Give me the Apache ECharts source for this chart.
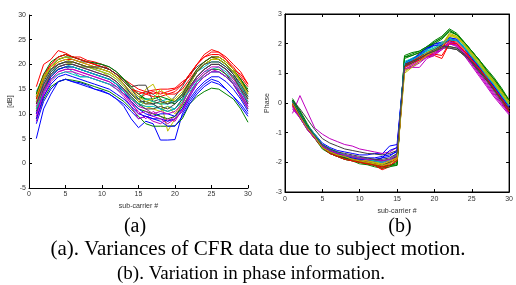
<!DOCTYPE html>
<html><head><meta charset="utf-8">
<script src="https://cdn.jsdelivr.net/npm/echarts@6/dist/echarts.min.js"></script>
<style>html,body{margin:0;padding:0;background:#fff}#c{width:516px;height:285px}</style>
</head><body><div id="c"></div>
<script>
const subCarriers = [1,2,3,4,5,6,7,8,9,10,11,12,13,14,15,16,17,18,19,20,21,22,23,24,25,26,27,28,29,30];
const xTicksA = [0,5,10,15,20,25,30];
const yTicksA = [-5,0,5,10,15,20,25,30];
const yTicksB = [-3,-2,-1,0,1,2,3];
const lineColors = ['#0000ff','#008000','#ff0000','#00bfbf','#bf00bf','#bfbf00','#404040'];

const cfrA01 = [5,11,14,16.5,17,16.5,16.3,15.8,15,14.7,14,13,11.5,9,7.2,8.5,8,4.7,4.7,4.8,10,12.5,14.5,16,17,16.5,15,13.5,12,10];
const cfrA02 = [9,13,15.5,16.5,17,16.8,16.5,16,15.5,15,14.5,13.5,12.5,11,9.5,8,7.5,7.5,7.5,7.6,9,12,13.5,14.5,15.2,15,14,13,11,8.3];
const cfrA03 = [15.5,20,21,22.8,22.3,21.5,21.5,20.8,20.5,20,19,18,17,16,15,14.5,14.8,15,15,15.2,16.5,17.5,20,22,23,22.5,21,19,18,16];
const cfrA04 = [13,16,18,19,19.5,18.5,17.5,17.5,17,16.5,16,15,14,13,11.5,12.5,12,11,11.5,11,13,15,17,18.5,19,19.5,18.5,16.5,15,13];
const cfrA05 = [10,14,17,18.5,19,19,18.5,18,17.5,17,16.5,15.5,14,12,10.5,9,10.5,9.5,8.5,9.5,12,15,17,18.5,19.5,19.5,18,16.5,14.5,12];
const cfrA06 = [12,15.5,18,19.5,20,20.5,20,19.5,19,18.5,17.5,16.5,15,13,12,15,16,13,6.5,9,12,15.5,17.5,19,20,20,19,17,15.5,13];
const cfrA07 = [14,17.5,19.5,21,21.5,21,20.5,20.5,20.3,20,19.5,18.5,17,15.5,15.8,15.8,12.5,13,12,13.5,15.5,18,19.5,20.5,21.5,21,20,18.5,16.5,14.5];
const cfrA08 = [8,12.5,15,16.5,17,16.5,16,15.5,15,14.5,14,13,12,10.5,9,9.5,9,8.5,7.5,7.5,9.5,12,14,15.5,16.5,16,15,13.5,11.5,9.5];
const cfrA09 = [11,15,17.5,19,19.5,19.5,19,18.5,18,17.5,17,16,14.5,12.5,11,10.5,10,9.5,9,9.5,11.5,14,16.5,18,19,19,18,16,13.5,11];
const cfrA10 = [12,17,19,20.5,21,21,20.5,20,19.5,19,18.5,17.5,16,14,13,14,13.5,13.5,14,14,15,17,19,20.5,21.5,21.5,20.5,19,17,14.5];
const cfrA11 = [14.5,17.5,19,20,20.5,20,19.5,19.5,19,18.5,18,17,15.5,14,13,14.5,14,12.5,13,12,14,16,18.5,19.5,20.5,20.5,19.5,18,16,14];
const cfrA12 = [8.5,13.5,16.5,18,18.5,18.5,18,17.5,17,16.5,16,15,13.5,11.5,9,9.5,8.5,8,9,8.5,11,14,16.5,18,19,18.5,17.5,16,13.5,11];
const cfrA13 = [11,16,18.5,20,20.5,20,19.5,19.5,19,18.5,18,17,15.5,13.5,12,11.5,11,10.5,11.5,10,12.5,15.5,17.5,19,20,20,19,17.5,15,12.5];
const cfrA14 = [13,16.5,19,20,20.5,20.5,20,19.5,19.3,19,18.5,17.5,16,14,12.5,12.5,12,11,10.5,11,13,16,18.5,20,21,21,20,18,15.5,13];
const cfrA15 = [10,14.5,17.5,19,19.5,19.5,19,18.5,18,17.5,17,16,14.5,12.5,11,10,9.5,10,10,9.5,11,13.5,16,17.5,18.5,18.5,17.5,16,14,11.5];
const cfrA16 = [13.5,17,19.5,21,21.5,21.5,21,20.5,20,19.5,19,18,17,15,13.5,13,12.5,12,12.5,12,13.5,16.5,18.5,20,21,21,20,18.5,17,14.5];
const cfrA17 = [14,18,20,21.5,22,21.5,21,20.5,20,19.5,19,18,16.5,15,14,14.5,14,14.5,14,14.5,16,18,20,21.5,22,22,21,19.5,17.5,15.5];
const cfrA18 = [12.5,16,18.5,19.5,20,19.5,19,18.5,18,17.5,17,16,15,13.5,12,11.5,11.5,11,10.5,11,12.5,15,17.5,19,20,20,19,17.5,15.5,13.5];
const cfrA19 = [11.5,15.5,18,19.5,20,20,19.5,19,18.5,18,17.5,16.5,15,13,11.5,11,10,10.5,10,10.5,12,15,17.5,19,20,20,19,17,15,12.5];
const cfrA20 = [12.5,17,19.5,21,21.5,21,20.5,20,19.5,19,18.5,17.5,16,14.5,12.5,12,12.5,12,12.5,13,14.5,16.5,18.5,20,21,21,20,18.5,16.5,14];
const cfrA21 = [10.5,15,18,19.5,20,20,19.5,19,18.5,18,17.5,16.5,15,13.5,12,11,11,11.5,11,12,13.5,15.5,17.5,19,20,20,19,17.5,15,12];
const cfrA22 = [9,13.5,16,17.5,18,17.5,17,16.5,16,15.5,15,14,13,11.5,10,9.5,9,9,8.5,9,10.5,13,15,16.5,17.5,17.5,16.5,15,13,10.5];
const cfrA23 = [14,18,20.5,21.5,22,21.5,21,20.5,20.3,20,19.5,18.5,17,15.5,14,13,13,13.5,13,12.5,14,16.5,19,20.5,21.5,21.5,20.5,19,17,15];
const cfrA24 = [13,17.5,20,21.5,22,21.5,21,20.5,20,19.5,19,18,16.5,15,14.5,14,14.5,14,14.5,15,16,18,20,21.5,22.5,22.5,21.5,20,18.5,16];
const cfrA25 = [11,14.5,17,18,18.5,18,17.5,17.5,17,16.5,16,15.5,14.5,13,12,13,12.5,12,12,12.5,13,14.5,16.5,17.5,18.5,18.5,17.5,16,14.5,12.5];
const cfrA26 = [9.5,14.5,17,18.5,19,19,18.5,18,17.5,17,16.5,15.5,14,12.5,10,10.5,9.5,9,8,9,10.5,13.5,16,17.5,18.5,18.5,17.5,16,14,11.5];
const cfrA27 = [13.5,17.5,19.5,20.5,21,20.5,20,19.5,19.5,19,18.5,17.5,16.5,15,13.5,12.5,13,15,13.5,12.5,14,16,18.5,20,21,21.5,20.5,19,16.5,14];
const cfrA28 = [12,16,18.5,20,20.5,20.5,20,19.5,19.5,19.5,19,18,16.5,15,13,12,12,12.5,12,12.5,14,16.5,18.5,20,20.5,20.5,19.5,18,16,13.5];

const phB01 = [0.1,-0.3,-0.75,-1.05,-1.35,-1.5,-1.6,-1.65,-1.7,-1.75,-1.75,-1.7,-1.72,-1.45,-1.4,1.3,1.45,1.65,1.9,2.0,2.05,2.1,2.0,1.75,1.45,1.15,0.85,0.55,0.25,-0.05];
const phB02 = [0.15,-0.25,-0.7,-1.1,-1.5,-1.7,-1.8,-1.9,-1.95,-2.05,-2.08,-2.15,-2.2,-2.1,-2.1,1.6,1.7,1.75,1.9,2.1,2.25,2.5,2.35,2.05,1.75,1.45,1.15,0.85,0.5,0.1];
const phB03 = [-0.1,-0.5,-0.85,-1.2,-1.5,-1.65,-1.75,-1.85,-1.9,-1.95,-2.0,-2.1,-2.25,-2.15,-1.9,1.25,1.4,1.7,1.55,1.6,1.5,2.0,1.95,1.7,1.4,1.1,0.8,0.5,0.15,-0.2];
const phB04 = [0.05,-0.35,-0.75,-1.05,-1.4,-1.55,-1.65,-1.75,-1.8,-1.85,-1.9,-1.95,-2.0,-1.95,-1.75,1.35,1.5,1.6,1.75,1.85,2.0,2.2,2.15,1.9,1.6,1.3,1.0,0.65,0.3,-0.05];
const phB05 = [-0.35,0.25,-0.3,-0.85,-1.05,-1.2,-1.3,-1.4,-1.45,-1.55,-1.6,-1.65,-1.7,-1.65,-1.5,1.1,1.2,1.2,1.5,1.6,1.8,2.0,1.9,1.6,1.25,0.9,0.55,0.2,-0.1,-0.4];
const phB06 = [0,-0.4,-0.8,-1.1,-1.45,-1.6,-1.7,-1.75,-1.85,-1.9,-1.95,-2.0,-2.1,-2.05,-1.85,1.05,1.25,1.4,1.6,1.75,1.95,2.35,2.25,1.95,1.65,1.35,1.0,0.7,0.35,0];
const phB07 = [0.1,-0.2,-0.55,-0.9,-1.2,-1.35,-1.45,-1.55,-1.6,-1.65,-1.7,-1.72,-1.75,-1.7,-1.6,1.2,1.35,1.5,1.65,1.75,1.9,1.85,1.8,1.6,1.35,1.05,0.75,0.45,0.15,-0.2];
const phB08 = [0.05,-0.45,-0.85,-1.15,-1.45,-1.6,-1.7,-1.8,-1.85,-1.9,-1.95,-1.95,-1.85,-1.6,-1.5,1.35,1.5,1.6,1.8,1.95,1.9,2.15,2.1,1.85,1.55,1.25,0.95,0.6,0.3,-0.1];
const phB09 = [0.1,-0.4,-0.85,-1.2,-1.55,-1.7,-1.8,-1.85,-1.9,-2.0,-2.05,-2.1,-2.15,-2.1,-2.05,1.55,1.6,1.7,1.85,2.05,2.2,2.45,2.3,2.05,1.75,1.45,1.1,0.8,0.45,0.05];
const phB10 = [-0.05,-0.45,-0.85,-1.15,-1.5,-1.65,-1.8,-1.85,-1.95,-2.0,-2.05,-2.05,-2.1,-2.0,-1.8,1.25,1.35,1.5,1.6,1.7,1.85,2.05,2.0,1.75,1.45,1.15,0.8,0.45,0.1,-0.25];
const phB11 = [0,-0.4,-0.8,-1.1,-1.4,-1.55,-1.7,-1.75,-1.85,-1.9,-1.95,-2.0,-2.0,-1.95,-1.8,1.3,1.45,1.55,1.7,1.8,1.95,2.1,2.1,1.85,1.55,1.25,0.9,0.6,0.25,-0.1];
const phB12 = [-0.2,-0.5,-0.9,-1.2,-1.45,-1.6,-1.7,-1.75,-1.8,-1.85,-1.9,-1.95,-1.95,-1.9,-1.75,1.15,1.2,1.35,1.55,1.65,1.85,2.05,2.0,1.7,1.35,1.0,0.65,0.3,0,-0.35];
const phB13 = [0.05,-0.4,-0.8,-1.15,-1.45,-1.6,-1.7,-1.8,-1.85,-1.9,-1.95,-2.0,-2.05,-2.0,-1.9,1.1,1.3,1.45,1.65,1.8,1.95,2.3,2.2,1.95,1.65,1.3,1.0,0.7,0.35,-0.05];
const phB14 = [-0.05,-0.5,-0.9,-1.2,-1.5,-1.65,-1.75,-1.85,-1.9,-1.95,-2.0,-2.05,-2.1,-2.0,-1.95,1.25,1.4,1.55,1.7,1.8,1.95,1.9,1.85,1.65,1.4,1.1,0.8,0.45,0.1,-0.25];
const phB15 = [0.1,-0.35,-0.8,-1.1,-1.4,-1.55,-1.65,-1.75,-1.8,-1.85,-1.85,-1.85,-1.8,-1.75,-1.65,1.3,1.45,1.6,1.8,2.0,2.0,2.2,2.15,1.85,1.55,1.2,0.9,0.55,0.2,-0.15];
const phB16 = [0.1,-0.35,-0.8,-1.15,-1.5,-1.65,-1.75,-1.85,-1.9,-1.95,-2.0,-2.05,-2.15,-2.1,-2.0,1.5,1.6,1.7,1.85,2.0,2.15,2.4,2.3,2.0,1.7,1.4,1.05,0.75,0.4,0.05];
const phB17 = [0,-0.4,-0.8,-1.15,-1.45,-1.6,-1.75,-1.8,-1.9,-1.95,-2.0,-2.05,-2.15,-2.05,-1.85,1.3,1.4,1.55,1.65,1.75,1.9,2.1,2.05,1.8,1.5,1.2,0.85,0.5,0.15,-0.2];
const phB18 = [0.05,-0.35,-0.75,-1.1,-1.4,-1.55,-1.65,-1.75,-1.8,-1.85,-1.9,-1.9,-1.95,-1.9,-1.7,1.4,1.5,1.65,1.8,1.9,2.05,2.15,2.1,1.9,1.6,1.3,0.95,0.6,0.3,-0.05];
const phB19 = [-0.1,-0.45,-0.85,-1.15,-1.45,-1.6,-1.7,-1.8,-1.85,-1.9,-1.95,-1.95,-2.0,-1.95,-1.8,1.2,1.3,1.45,1.6,1.7,1.85,2.0,1.95,1.7,1.35,1.0,0.7,0.35,0,-0.3];
const phB20 = [0.05,-0.4,-0.8,-1.1,-1.45,-1.6,-1.7,-1.8,-1.85,-1.9,-1.95,-2.0,-2.05,-1.95,-1.85,1.2,1.35,1.5,1.7,1.85,2.0,2.3,2.25,2.0,1.7,1.4,1.05,0.75,0.4,0.05];
const phB21 = [0,-0.45,-0.85,-1.15,-1.45,-1.6,-1.7,-1.75,-1.8,-1.85,-1.9,-1.95,-1.95,-1.9,-1.8,1.3,1.4,1.5,1.65,1.75,1.85,1.85,1.8,1.6,1.35,1.05,0.75,0.4,0.05,-0.3];
const phB22 = [0.05,-0.4,-0.8,-1.15,-1.45,-1.6,-1.7,-1.8,-1.85,-1.9,-1.9,-1.9,-1.85,-1.8,-1.6,1.35,1.45,1.65,1.85,1.95,1.95,2.15,2.1,1.85,1.5,1.2,0.9,0.55,0.2,-0.1];
const phB23 = [0.1,-0.3,-0.75,-1.1,-1.5,-1.7,-1.8,-1.9,-1.95,-2.0,-2.05,-2.1,-2.2,-2.15,-2.1,1.55,1.65,1.75,1.9,2.05,2.2,2.45,2.3,2.05,1.75,1.45,1.1,0.8,0.45,0.1];
const phB24 = [-0.05,-0.45,-0.85,-1.2,-1.5,-1.7,-1.8,-1.9,-1.95,-2.0,-2.05,-2.1,-2.2,-2.1,-1.95,1.2,1.35,1.45,1.6,1.65,1.6,2.0,2.0,1.75,1.45,1.15,0.8,0.45,0.1,-0.3];
const phB25 = [0.05,-0.4,-0.8,-1.1,-1.4,-1.55,-1.65,-1.75,-1.8,-1.85,-1.9,-1.95,-2.0,-1.9,-1.75,1.35,1.45,1.6,1.75,1.85,2.0,2.15,2.1,1.85,1.55,1.25,0.9,0.6,0.25,-0.1];
const phB26 = [-0.15,-0.5,-0.9,-1.2,-1.45,-1.6,-1.7,-1.75,-1.8,-1.85,-1.9,-1.9,-1.95,-1.9,-1.75,1.15,1.25,1.4,1.55,1.65,1.8,2.0,1.95,1.65,1.3,0.95,0.6,0.25,-0.05,-0.35];
const phB27 = [0,-0.45,-0.85,-1.15,-1.5,-1.65,-1.75,-1.8,-1.9,-1.95,-2.0,-2.05,-2.1,-2.05,-1.9,1.0,1.2,1.4,1.6,1.75,1.9,2.25,2.2,1.95,1.6,1.3,0.95,0.65,0.3,-0.05];
const phB28 = [0.05,-0.4,-0.8,-1.1,-1.4,-1.55,-1.65,-1.7,-1.75,-1.8,-1.85,-1.9,-1.9,-1.85,-1.7,1.25,1.35,1.5,1.65,1.75,1.9,1.9,1.85,1.65,1.4,1.1,0.8,0.45,0.1,-0.2];

const seriesA = [cfrA01,cfrA02,cfrA03,cfrA04,cfrA05,cfrA06,cfrA07,cfrA08,cfrA09,cfrA10,cfrA11,cfrA12,cfrA13,cfrA14,cfrA15,cfrA16,cfrA17,cfrA18,cfrA19,cfrA20,cfrA21,cfrA22,cfrA23,cfrA24,cfrA25,cfrA26,cfrA27,cfrA28];
const seriesB = [phB01,phB02,phB03,phB04,phB05,phB06,phB07,phB08,phB09,phB10,phB11,phB12,phB13,phB14,phB15,phB16,phB17,phB18,phB19,phB20,phB21,phB22,phB23,phB24,phB25,phB26,phB27,phB28];

const captionTop = ['(a)','(b)'];
const captionLines = ['(a). Variances of CFR data due to subject motion.','(b). Variation in phase information.'];

const FONT = 'Liberation Sans';
const lab = {fontFamily: FONT, fontSize: 7, color: '#333'};
const axLine = {show: true, onZero: false, lineStyle: {color: '#000', width: 1}};
const tickIn = {show: true, inside: true, length: 3, lineStyle: {color: '#000'}};

function lineSeries(arr, xi, yi) {
  return arr.map((vals, k) => ({
    type: 'line', xAxisIndex: xi, yAxisIndex: yi, showSymbol: false, silent: true,
    lineStyle: {width: 1, color: lineColors[k % lineColors.length]},
    data: vals.map((v, i) => [subCarriers[i], v])
  }));
}

function capText(txt, cx, cy, size) {
  return {type: 'text', x: cx, y: cy, style: {text: txt, font: size + 'px "Liberation Serif"', fill: '#000', textAlign: 'center', textVerticalAlign: 'middle'}};
}

const chart = echarts.init(document.getElementById('c'), null, {renderer: 'canvas'});
chart.setOption({
  animation: false,
  backgroundColor: '#fff',
  grid: [
    {left: 29, top: 15, width: 219, height: 173, containLabel: false},
    {left: 285, top: 14, width: 229, height: 178, containLabel: false, show: true, borderColor: '#000', borderWidth: 1}
  ],
  xAxis: [
    {gridIndex: 0, type: 'value', min: xTicksA[0], max: xTicksA[xTicksA.length-1], interval: 5,
     axisLine: axLine, axisTick: tickIn, splitLine: {show: false},
     axisLabel: Object.assign({margin: 3}, lab),
     name: 'sub-carrier #', nameLocation: 'middle', nameGap: 14, nameTextStyle: lab},
    {gridIndex: 1, type: 'value', min: 0, max: 30, interval: 5,
     axisLine: axLine, axisTick: tickIn, splitLine: {show: false},
     axisLabel: Object.assign({margin: 4}, lab),
     name: 'sub-carrier #', nameLocation: 'middle', nameGap: 15, nameTextStyle: lab},
    {gridIndex: 1, type: 'value', position: 'top', min: 0, max: 30, interval: 5,
     axisLine: axLine, axisTick: tickIn, splitLine: {show: false}, axisLabel: {show: false}}
  ],
  yAxis: [
    {gridIndex: 0, type: 'value', min: yTicksA[0], max: yTicksA[yTicksA.length-1], interval: 5,
     axisLine: axLine, axisTick: tickIn, splitLine: {show: false},
     axisLabel: Object.assign({margin: 3}, lab),
     name: '[dB]', nameLocation: 'middle', nameGap: 15, nameRotate: 90, nameTextStyle: lab},
    {gridIndex: 1, type: 'value', min: yTicksB[0], max: yTicksB[yTicksB.length-1], interval: 1,
     axisLine: axLine, axisTick: tickIn, splitLine: {show: false},
     axisLabel: Object.assign({margin: 3}, lab),
     name: 'Phase', nameLocation: 'middle', nameGap: 14, nameRotate: 90, nameTextStyle: lab},
    {gridIndex: 1, type: 'value', position: 'right', min: -3, max: 3, interval: 1,
     axisLine: axLine, axisTick: tickIn, splitLine: {show: false}, axisLabel: {show: false}}
  ],
  graphic: [
    capText(captionTop[0], 135, 227, 20),
    capText(captionTop[1], 400, 227, 20),
    capText(captionLines[0], 258, 249, 21),
    capText(captionLines[1], 251, 274, 19)
  ],
  series: lineSeries(seriesA, 0, 0).concat(lineSeries(seriesB, 1, 1))
});
</script></body></html>
